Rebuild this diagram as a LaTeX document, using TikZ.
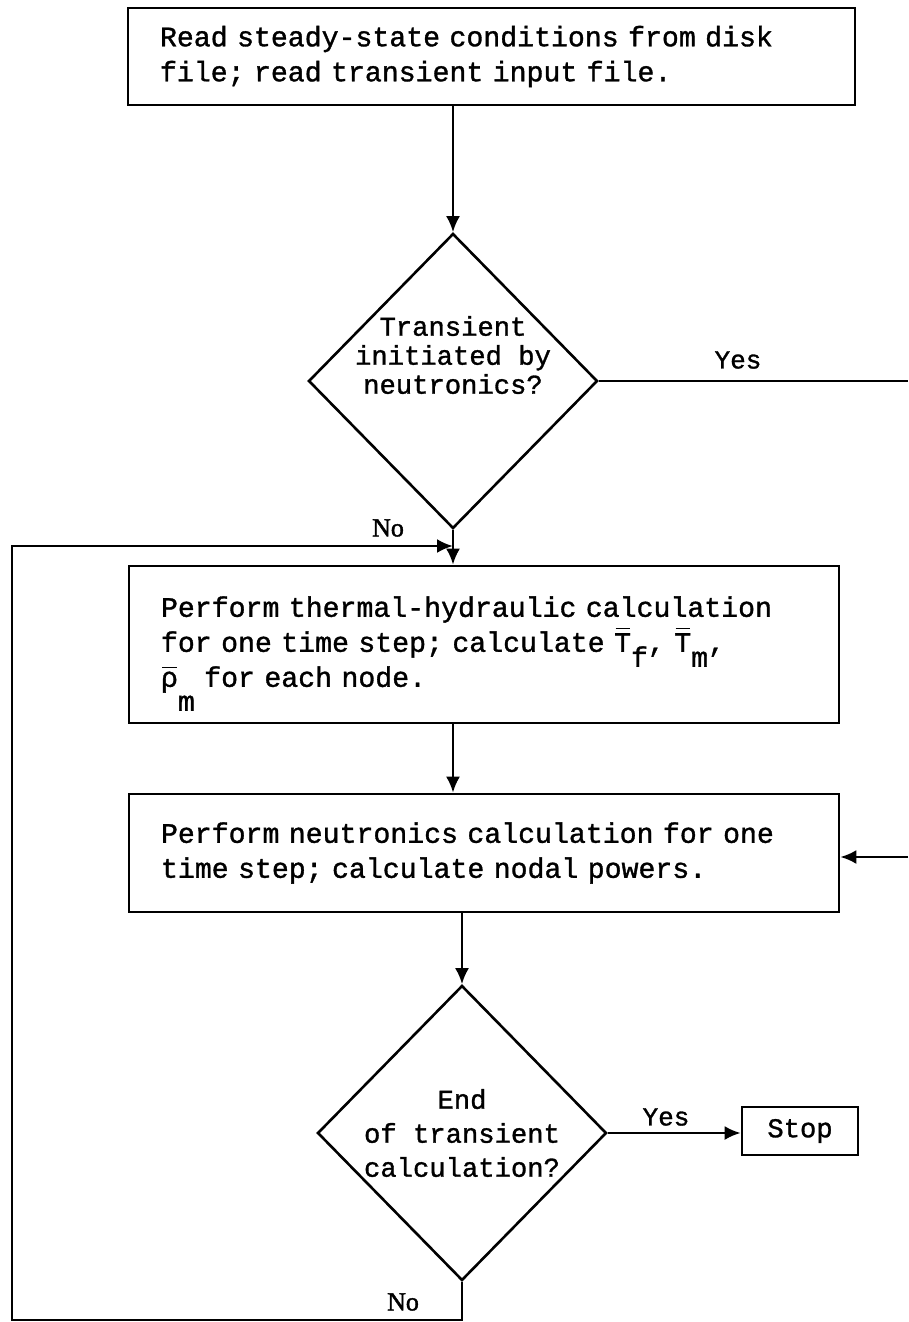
\documentclass[tikz,border=0pt]{standalone}
\usepackage{fontspec}
\setmainfont{Liberation Mono}[PunctuationSpace=1,FakeBold=1.2]
\newfontfamily\nofont{Liberation Serif}[FakeBold=1.5]
\usetikzlibrary{shapes.geometric,arrows.meta}
\newcommand{\barsym}[2]{\makebox[0pt][l]{\hspace{0.05em}\raisebox{#1}{\rule{0.5em}{1.4pt}}}#2}
\newcommand{\lowsub}[2]{\raisebox{-#1}[0pt][0pt]{#2}}
\newcommand{\typefont}[2]{\fontsize{#1}{#2}\selectfont}
\frenchspacing
\begin{document}
\begin{tikzpicture}[x=1pt,y=-1pt,line width=2.6pt,
	   proc/.style={draw,rectangle,align=left,inner xsep=32pt,inner ysep=0pt,font=\typefont{28.2}{35}},
	   decision/.style={draw,diamond,minimum width=289pt,minimum height=295pt,inner sep=0pt},
	   dectext/.style={align=center,inner sep=0pt},
	   yn/.style={font=\fontsize{26}{30}\selectfont},
	   nolab/.style={font=\nofont\fontsize{26}{30}\selectfont},
	   >={Latex[length=16pt,width=14pt]}]
	   \useasboundingbox(0,0)rectangle(908,1322);
	   \node(box1)[proc,text width=663pt,minimum height=97pt]at(491.5,56.5){Read steady-state conditions from disk\\file; read transient input file.};
	   \node(dec1)[decision]at(453,381){};
	   \node(dec1txt)[dectext,font=\typefont{27.2}{29}]at(453,355){Transient\\initiated by\\neutronics?};
	   \node(box2)[proc,text width=646pt,minimum height=157pt]at(484,644.5){Perform thermal-hydraulic calculation\\for one time step; calculate \barsym{.8em}{T}\lowsub{15pt}{f}, \barsym{.8em}{T}\lowsub{15pt}{m},\\\barsym{.65em}{ρ}\lowsub{24pt}{m} for each node.};
	   \node(box3)[proc,text width=646pt,minimum height=118pt]at(484,853){Perform neutronics calculation for one\\time step; calculate nodal powers.};
	   \node(dec2)[decision]at(462,1133){};
	   \node(dec2txt)[dectext,font=\typefont{27.2}{34}]at(462,1133){End\\of transient\\calculation?};
	   \node(stop)[draw,rectangle,minimum width=116pt,minimum height=48pt,inner sep=0pt,font=\typefont{27.2}{35}]at(800,1131){Stop};
	   \coordinate(yesR)at(908,381);
	   \coordinate(backR)at(908,857);
	   \coordinate(loopBL)at(12,1320);
	   \coordinate(loopTL)at(12,546);
	   \coordinate(merge)at(453,546);
	   \draw[->](dec1.north |- box1.south)--(dec1.north);
	   \draw(dec1.east)--(yesR);
	   \node(yes1)[yn]at(738,360){Yes};
	   \draw[->](dec1.south)--(dec1.south |- box2.north);
	   \node(no1)[nolab]at(388,528){No};
	   \draw[->](dec2.south)|-(loopBL)--(loopTL)--(merge);
	   \draw[->](dec1.south |- box2.south)--(dec1.south |- box3.north);
	   \draw[->](backR)--(backR -| box3.east);
	   \draw[->](dec2.north |- box3.south)--(dec2.north);
	   \draw[->](dec2.east)--(dec2.east -| stop.west);
	   \node(yes2)[yn]at(666,1117){Yes};
	   \node(no2)[nolab]at(403,1302){No};
	\end{tikzpicture}
\end{document}
